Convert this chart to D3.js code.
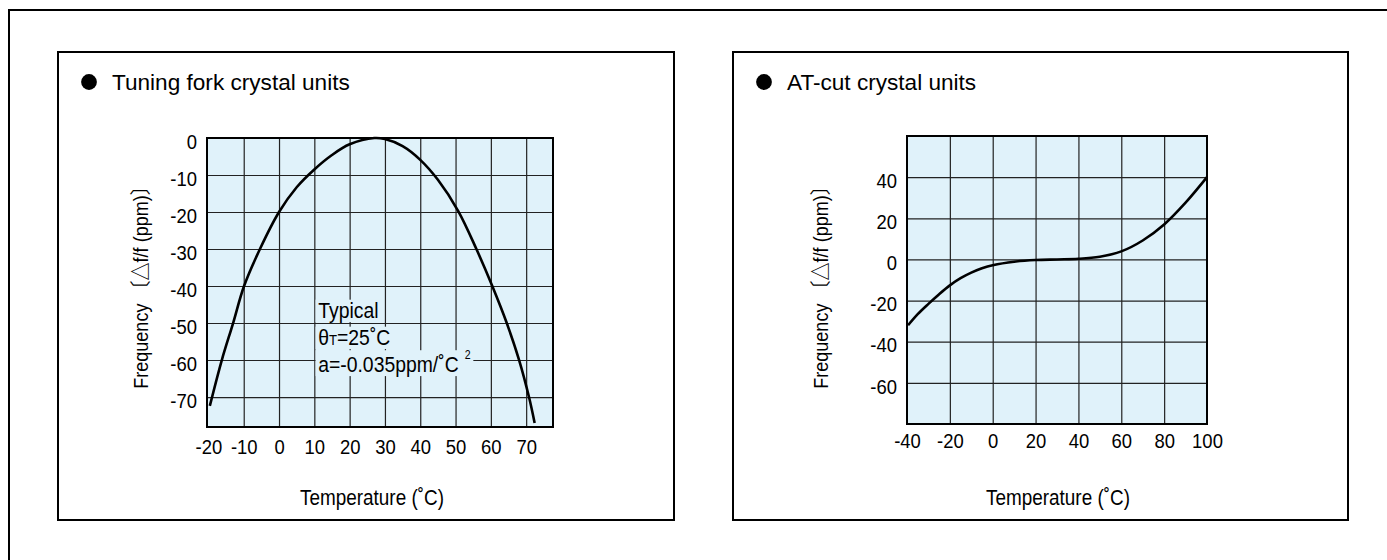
<!DOCTYPE html>
<html>
<head>
<meta charset="utf-8">
<script src="https://cdn.jsdelivr.net/npm/d3@7"></script>
<style>
  body { margin: 0; background: #fff; }
  svg text { font-family: "Liberation Sans", Arial, "Noto Sans CJK JP", sans-serif; fill: #000; }
</style>
</head>
<body>
<svg id="chart" width="1387" height="560"></svg>
<script>
// tuning fork crystal curve (deg C -> ppm)
var forkTemps = [-19.6, -16.2, -13.0, -9.9, -5.4, 0, 5, 10, 15, 20, 27, 30, 35, 40, 45, 50.8, 55.9, 60.4, 64.5, 68, 70.8, 72.4];
var forkPpm   = [-72.4, -60, -50, -40, -30, -20, -13.3, -8.5, -4.6, -1.7, 0, -0.3, -2.2, -5.9, -11.3, -19.8, -30, -40, -50, -60, -70, -77];
var forkXTicks = [-20, -10, 0, 10, 20, 30, 40, 50, 60, 70];
var forkYTicks = [0, -10, -20, -30, -40, -50, -60, -70];

// AT-cut crystal curve
var atTemps = [-39.5, -35, -30, -25, -20, -15, -10, -5, 0, 10, 20, 30, 40, 50, 60, 70, 80, 90, 100];
var atPpm   = [-32, -26.6, -21.6, -16.9, -12.6, -9.1, -6.4, -4.3, -2.8, -1.1, -0.3, 0, 0.3, 1.3, 3.9, 9.2, 17, 27.6, 40];
var atXTicks = [-40, -20, 0, 20, 40, 60, 80, 100];
var atYTicks = [40, 20, 0, -20, -40, -60];

var svg = d3.select("#chart");
var bg = "#e0f2fa";
var squeeze = 0.9;   // condensed look from a regular face

// outer frame
svg.append("path")
    .attr("d", "M9,560V10H1387")
    .attr("fill", "none")
    .attr("stroke", "#000")
    .attr("stroke-width", 2);

function condensed(sel, k) {
    sel.attr("transform", "scale(" + k + ",1)")
        .attr("x", function() { return (+d3.select(this).attr("x") || 0) / k; });
}

function drawPanel(p) {

    var g = svg.append("g");

    g.append("rect")
        .attr("x", p.box[0]).attr("y", p.box[1])
        .attr("width", p.box[2]).attr("height", p.box[3])
        .attr("fill", "#fff")
        .attr("stroke", "#000")
        .attr("stroke-width", 2);

    g.append("circle")
        .attr("cx", p.box[0] + 31).attr("cy", 82)
        .attr("r", 7.9)
        .attr("fill", "#000");

    g.append("text")
        .attr("x", p.box[0] + 54).attr("y", 89.5)
        .attr("font-size", 22.6)
        .attr("fill", "#111")
        .text(p.title);

    var x = d3.scaleLinear().domain(p.xDomain).range(p.xRange),
        y = d3.scaleLinear().domain(p.yDomain).range(p.yRange),
        w = p.xRange[1] - p.xRange[0],
        h = p.yRange[1] - p.yRange[0];

    g.append("rect")
        .attr("x", p.xRange[0]).attr("y", p.yRange[0])
        .attr("width", w).attr("height", h)
        .attr("fill", bg);

    // grid, skipping lines that sit on the border
    var gx = p.xTicks.filter(function(v) { return x(v) - p.xRange[0] > 3 && p.xRange[1] - x(v) > 3; }),
        gy = p.yTicks.filter(function(v) { return y(v) - p.yRange[0] > 3 && p.yRange[1] - y(v) > 3; });

    g.append("g")
        .attr("transform", "translate(0," + p.yRange[1] + ")")
        .call(d3.axisBottom(x).tickValues(gx).tickSize(-h).tickFormat(""))
        .call(function(s) {
            s.select(".domain").remove();
            s.selectAll("line").attr("stroke", "#222").attr("stroke-width", 1.2);
        });

    g.append("g")
        .attr("transform", "translate(" + p.xRange[0] + ",0)")
        .call(d3.axisLeft(y).tickValues(gy).tickSize(-w).tickFormat(""))
        .call(function(s) {
            s.select(".domain").remove();
            s.selectAll("line").attr("stroke", "#222").attr("stroke-width", 1.2);
        });

    // note with knocked-out background behind each line
    if (p.note) {
        var nx = x(p.note.at[0]), ny = y(p.note.at[1]);
        p.note.lines.forEach(function(line, i) {
            var lg = g.append("g")
                .attr("transform", "translate(" + nx + "," + (ny + i * 27) + ") scale(0.88,1)");
            var t = lg.append("text").attr("font-size", 22);
            line.forEach(function(part) {
                var ts = t.append("tspan").text(part.s);
                if (part.small) ts.attr("font-size", 15);
                if (part.sup) ts.attr("font-size", 12).attr("dy", -13).attr("dx", 7);
            });
            var b = t.node().getBBox();
            lg.insert("rect", "text")
                .attr("x", b.x - 3).attr("y", b.y + 2)
                .attr("width", b.width + 6).attr("height", b.height - 2)
                .attr("fill", bg);
        });
    }

    g.append("rect")
        .attr("x", p.xRange[0]).attr("y", p.yRange[0])
        .attr("width", w).attr("height", h)
        .attr("fill", "none")
        .attr("stroke", "#000")
        .attr("stroke-width", 2);

    var line = d3.line()
        .x(function(d) { return x(d[0]); })
        .y(function(d) { return y(d[1]); })
        .curve(d3.curveCatmullRom.alpha(0.5));

    g.append("path")
        .datum(p.temps.map(function(t, i) { return [t, p.ppm[i]]; }))
        .attr("d", line)
        .attr("fill", "none")
        .attr("stroke", "#000")
        .attr("stroke-width", 2.6);

    // tick labels
    g.append("g")
        .attr("transform", "translate(0," + p.yRange[1] + ")")
        .call(d3.axisBottom(x).tickValues(p.xTicks).tickSize(0).tickPadding(p.xPad)
            .tickFormat(function(d) { return String(d); }))
        .call(function(s) {
            s.select(".domain").remove();
            s.attr("font-family", null).attr("font-size", null);
            s.selectAll("text").attr("font-size", 20.5).attr("fill", "#000").call(condensed, squeeze);
        });

    g.append("g")
        .attr("transform", "translate(" + p.xRange[0] + ",0)")
        .call(d3.axisLeft(y).tickValues(p.yTicks).tickSize(0).tickPadding(10)
            .tickFormat(function(d) { return String(d); }))
        .call(function(s) {
            s.select(".domain").remove();
            s.attr("font-family", null).attr("font-size", null);
            s.selectAll("text").attr("font-size", 20.5).attr("fill", "#000").attr("dy", "0.5em")
                .call(condensed, squeeze);
        });

    g.append("text")
        .attr("transform", "translate(" + p.xLabel[0] + "," + p.xLabel[1] + ") scale(0.86,1)")
        .attr("text-anchor", "middle")
        .attr("font-size", 22)
        .text("Temperature (˚C)");

    g.append("text")
        .attr("transform", "translate(" + p.yLabel[0] + "," + p.yLabel[1] + ") rotate(-90) scale(0.86,1)")
        .attr("text-anchor", "middle")
        .attr("font-size", 21)
        .text("Frequency\u00a0〔△f/f (ppm)〕");
}

drawPanel({
    box: [58, 52, 616, 468],
    title: "Tuning fork crystal units",
    xDomain: [-20.4, 77.6], xRange: [207, 553],
    yDomain: [0, -78.1], yRange: [138, 427],
    xTicks: forkXTicks, yTicks: forkYTicks,
    temps: forkTemps, ppm: forkPpm,
    xPad: 12,
    xLabel: [372, 505], yLabel: [148, 283],
    note: {
        at: [11.1, -48.6],
        lines: [
            [{ s: "Typical" }],
            [{ s: "θ" }, { s: "T", small: true }, { s: "=25˚C" }],
            [{ s: "a=-0.035ppm/˚C" }, { s: "2", sup: true }]
        ]
    }
});

drawPanel({
    box: [733, 52, 615, 468],
    title: "AT-cut crystal units",
    xDomain: [-40, 100], xRange: [907, 1207],
    yDomain: [60, -80], yRange: [136, 424],
    xTicks: atXTicks, yTicks: atYTicks,
    temps: atTemps, ppm: atPpm,
    xPad: 9,
    xLabel: [1058, 505], yLabel: [828, 283]
});
</script>
</body>
</html>
